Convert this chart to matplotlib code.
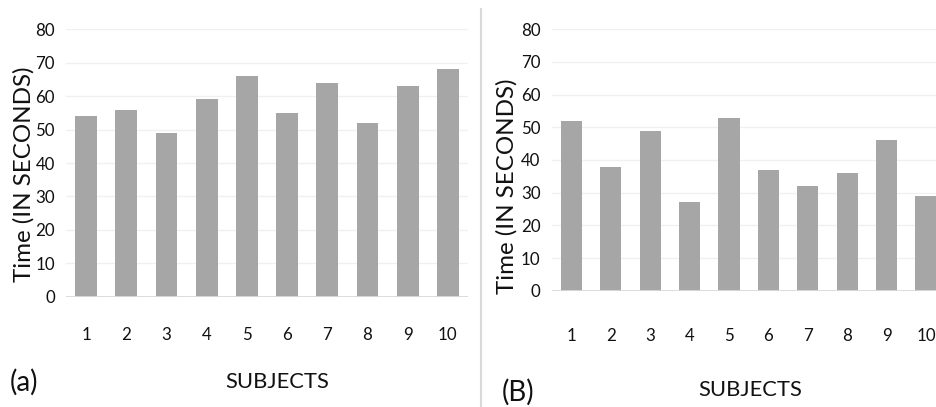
import matplotlib
matplotlib.use("Agg")
import matplotlib.pyplot as plt
from matplotlib.lines import Line2D

subjects = ["1", "2", "3", "4", "5", "6", "7", "8", "9", "10"]
times_a = [54, 56, 49, 59, 66, 55, 64, 52, 63, 68]
times_b = [52, 38, 49, 27, 53, 37, 32, 36, 46, 29]
yticks = [0, 10, 20, 30, 40, 50, 60, 70, 80]

W, H = 937, 407
plt.rcParams['font.family'] = ['Lato', 'DejaVu Sans']
fig = plt.figure(figsize=(W / 100, H / 100), dpi=100)

BAR = "#a6a6a6"
GRID = "#f0f0f0"
BASE = "#d9d9d9"
TXT = "#111111"


def px_axes(x0, x1, ytop, ybot):
    return fig.add_axes([x0 / W, (H - ybot) / H, (x1 - x0) / W, (ybot - ytop) / H])


def style(ax, values, xpad):
    x = range(len(values))
    ax.bar(x, values, width=0.54, color=BAR, zorder=2)
    ax.set_xlim(-0.5, len(values) - 0.5)
    ax.set_ylim(0, 80)
    ax.set_yticks(yticks)
    ax.set_xticks(list(x))
    ax.set_xticklabels(subjects)
    for s in ax.spines.values():
        s.set_visible(False)
    ax.axhline(0, color=BASE, lw=1.3, zorder=3)
    ax.grid(axis="y", color=GRID, lw=1.0, zorder=0)
    ax.set_axisbelow(True)
    ax.tick_params(axis="y", length=0, pad=8, labelsize=12.2, labelcolor=TXT)
    ax.tick_params(axis="x", length=0, pad=xpad, labelsize=12.2, labelcolor=TXT)


ax1 = px_axes(66, 468, 29.3, 296.7)
style(ax1, times_a, 22)
ax2 = px_axes(551.7, 945.7, 29.3, 290.7)
style(ax2, times_b, 26.5)

# Axis titles and panel labels
fig.text(23.5 / W, 1 - 174 / H, "Time (IN SECONDS)", rotation=90, ha="center", va="center",
         fontsize=17.4, color=TXT)
fig.text(507 / W, 1 - 186 / H, "Time (IN SECONDS)", rotation=90, ha="center", va="center",
         fontsize=17.4, color=TXT)
fig.text(277 / W, 1 - 382 / H, "SUBJECTS", ha="center", va="center", fontsize=15.8, color=TXT)
fig.text(750 / W, 1 - 390 / H, "SUBJECTS", ha="center", va="center", fontsize=15.8, color=TXT)
fig.text(10 / W, 1 - 382 / H, "(a)", ha="left", va="center", fontsize=20, color=TXT)
fig.text(502 / W, 1 - 392 / H, "(B)", ha="left", va="center", fontsize=20, color=TXT)

# separator
fig.add_artist(Line2D([481 / W, 481 / W], [0, 1 - 9 / H], transform=fig.transFigure,
                      color=BASE, lw=1.5))

fig.savefig("out.png", dpi=100)
